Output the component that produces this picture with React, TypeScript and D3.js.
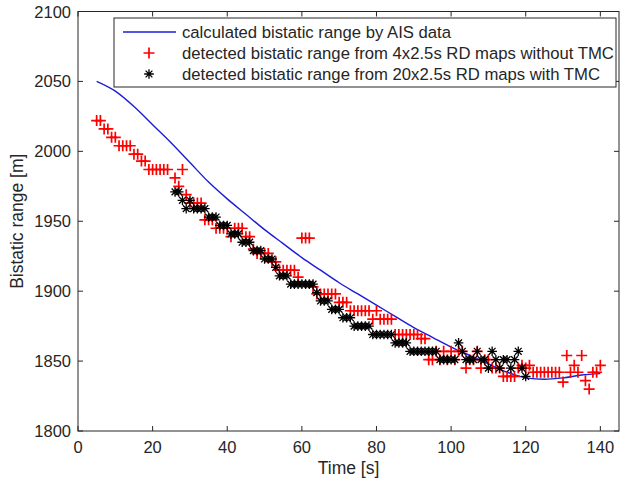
import React from "react";
import * as d3 from "d3";

// Calculated bistatic range (AIS)
const aisTime = [5, 10, 15, 20, 25, 30, 35, 40, 45, 50, 55, 60, 65, 70, 75, 80, 85, 90, 95, 100, 105, 110, 115, 120, 125, 130, 135, 140];
const aisRange = [2050, 2043, 2032, 2019, 2006, 1992, 1978, 1966, 1955, 1944, 1934, 1924, 1915, 1906, 1898, 1890, 1882, 1874, 1867, 1860, 1854, 1848, 1842, 1838, 1837, 1838, 1840, 1841];

// Detected without TMC (red +)
const redTime = [
  5, 6, 7, 8, 9, 10, 11, 12, 13, 14, 15, 16, 17, 18, 19, 20, 21, 22, 23, 24,
  26, 27, 28, 29, 30, 31, 32, 33, 34, 35, 36, 37, 38, 39, 40, 41, 42, 43, 44, 45,
  46, 47, 48, 49, 50, 51, 52, 53, 54, 55, 56, 57, 58, 59, 60, 61, 62, 63, 64, 65,
  66, 67, 68, 69, 70, 71, 72, 73, 74, 75, 76, 77, 78, 79, 80, 81, 82, 83, 84, 85,
  86, 87, 88, 89, 90, 91, 92, 93, 94, 95, 96, 97, 98, 99, 100, 101, 102, 103, 104, 105,
  106, 107, 108, 109, 110, 111, 112, 113, 114, 115, 116, 117, 118, 119, 120, 121, 122, 123, 124, 125,
  126, 127, 128, 129, 130, 131, 132, 133, 134, 135, 136, 137, 138, 139, 140,
];
const redRange = [
  2022, 2022, 2016, 2016, 2010, 2010, 2004, 2004, 2004, 2004, 1998, 1998, 1993, 1993, 1987, 1987, 1987, 1987, 1987, 1987,
  1981, 1975, 1987, 1969, 1963, 1963, 1963, 1963, 1951, 1951, 1951, 1945, 1945, 1945, 1945, 1939, 1945, 1945, 1945, 1939,
  1939, 1930, 1927, 1927, 1927, 1927, 1921, 1921, 1915, 1915, 1915, 1915, 1915, 1910, 1938, 1938, 1938, 1903, 1898, 1898,
  1898, 1898, 1898, 1898, 1892, 1892, 1892, 1886, 1886, 1886, 1886, 1886, 1886, 1880, 1886, 1880, 1880, 1880, 1880, 1869,
  1869, 1869, 1869, 1869, 1869, 1869, 1866, 1866, 1851, 1851, 1857, 1851, 1857, 1851, 1857, 1851, 1857, 1857, 1845, 1851,
  1851, 1857, 1845, 1851, 1851, 1845, 1845, 1845, 1839, 1839, 1839, 1839, 1845, 1847, 1845, 1847, 1842, 1842, 1842, 1842,
  1842, 1842, 1842, 1842, 1835, 1854, 1842, 1847, 1842, 1854, 1836, 1830, 1842, 1842, 1847,
];

// Detected with TMC (black *)
const blackTime = [
  26, 27, 28, 29, 30, 31, 32, 33, 34, 35, 36, 37, 38, 39, 40, 41, 42, 43, 44, 45,
  46, 47, 48, 49, 50, 51, 52, 53, 54, 55, 56, 57, 58, 59, 60, 61, 62, 63, 64, 65,
  66, 67, 68, 69, 70, 71, 72, 73, 74, 75, 76, 77, 78, 79, 80, 81, 82, 83, 84, 85,
  86, 87, 88, 89, 90, 91, 92, 93, 94, 95, 96, 97, 98, 99, 100, 101, 102, 103, 104, 105,
  106, 107, 108, 109, 110, 111, 112, 113, 114, 115, 116, 117, 118, 119, 120,
];
const blackRange = [
  1971, 1971, 1965, 1959, 1965, 1959, 1959, 1959, 1959, 1953, 1953, 1953, 1947, 1947, 1947, 1941, 1941, 1941, 1935, 1935,
  1935, 1929, 1929, 1929, 1923, 1923, 1923, 1917, 1911, 1911, 1911, 1905, 1905, 1905, 1905, 1905, 1905, 1905, 1899, 1893,
  1893, 1893, 1887, 1887, 1887, 1881, 1881, 1881, 1875, 1875, 1875, 1875, 1875, 1869, 1869, 1869, 1869, 1869, 1869, 1863,
  1863, 1863, 1863, 1857, 1857, 1857, 1857, 1857, 1857, 1857, 1857, 1851, 1851, 1851, 1851, 1851, 1863, 1857, 1851, 1851,
  1851, 1857, 1851, 1851, 1845, 1857, 1851, 1845, 1851, 1851, 1845, 1851, 1857, 1845, 1839,
];

const xTicks = [0, 20, 40, 60, 80, 100, 120, 140];
const yTicks = [1800, 1850, 1900, 1950, 2000, 2050, 2100];

const legendLabels = [
  "calculated bistatic range by AIS data",
  "detected bistatic range from 4x2.5s RD maps without TMC",
  "detected bistatic range from 20x2.5s RD maps with TMC",
];

const W = 620;
const H = 481;
const left = 78;
const right = 619;
const top = 11.5;
const bottom = 431;
const font = "'Liberation Sans', Arial, Helvetica, sans-serif";
const axisColor = "#262626";
const blue = "#1c1cd8";

const x = d3.scaleLinear().domain([0, 145]).range([left, right]);
const y = d3.scaleLinear().domain([1800, 2100]).range([bottom, top]);

const plusPath = (r: number) => `M${-r},0H${r}M0,${-r}V${r}`;
const starPath = (r: number) => {
  const d = r * 0.7071;
  return `M${-r},0H${r}M0,${-r}V${r}M${-d},${-d}L${d},${d}M${-d},${d}L${d},${-d}`;
};

export default function App() {
  const line = d3
    .line<number>()
    .x((_, i) => x(aisTime[i]))
    .y((v) => y(v))
    .curve(d3.curveMonotoneX);
  const linePath = line(aisRange) || "";

  const tickLen = 5;
  const legX = 114;
  const legY = 18;
  const legW = 502;
  const legH = 69;
  const rowY = [32, 53, 74];

  return (
    <svg
      width={W}
      height={H}
      style={{ position: "absolute", left: 0, top: 0, background: "#fff" }}
      fontFamily={font}
    >
      <rect x={0} y={0} width={W} height={H} fill="#fff" />
      {/* axes box */}
      <rect x={left} y={top} width={right - left} height={bottom - top} fill="#fff" stroke={axisColor} strokeWidth={1} />
      {xTicks.map((t) => (
        <g key={"xt" + t}>
          <line x1={x(t)} x2={x(t)} y1={bottom} y2={bottom - tickLen} stroke={axisColor} />
          <line x1={x(t)} x2={x(t)} y1={top} y2={top + tickLen} stroke={axisColor} />
          <text x={x(t)} y={bottom + 22} fontSize={16.5} textAnchor="middle" fill={axisColor}>
            {t}
          </text>
        </g>
      ))}
      {yTicks.map((t) => (
        <g key={"yt" + t}>
          <line x1={left} x2={left + tickLen} y1={y(t)} y2={y(t)} stroke={axisColor} />
          <line x1={right} x2={right - tickLen} y1={y(t)} y2={y(t)} stroke={axisColor} />
          <text x={left - 7} y={y(t) + 6} fontSize={16.5} textAnchor="end" fill={axisColor}>
            {t}
          </text>
        </g>
      ))}
      <text x={(left + right) / 2} y={474} fontSize={17.5} textAnchor="middle" fill={axisColor}>
        Time [s]
      </text>
      <text
        transform={`translate(23,${(top + bottom) / 2}) rotate(-90)`}
        fontSize={17.5}
        textAnchor="middle"
        fill={axisColor}
      >
        Bistatic range [m]
      </text>

      {/* AIS line */}
      <path d={linePath} fill="none" stroke={blue} strokeWidth={1.4} />

      {/* red plus markers */}
      {redRange.map((v, i) => (
        <path
          key={"r" + i}
          d={plusPath(5.5)}
          transform={`translate(${x(redTime[i])},${y(v)})`}
          stroke="#ff0000"
          strokeWidth={1.7}
          fill="none"
        />
      ))}
      {/* black star markers */}
      {blackRange.map((v, i) => (
        <path
          key={"b" + i}
          d={starPath(4.8)}
          transform={`translate(${x(blackTime[i])},${y(v)})`}
          stroke="#000"
          strokeWidth={1.3}
          fill="none"
        />
      ))}

      {/* legend */}
      <rect x={legX} y={legY} width={legW} height={legH} fill="#fff" stroke={axisColor} strokeWidth={1} />
      <line x1={123} x2={176} y1={rowY[0]} y2={rowY[0]} stroke={blue} strokeWidth={1.4} />
      <path d={plusPath(5.5)} transform={`translate(149,${rowY[1]})`} stroke="#ff0000" strokeWidth={1.7} fill="none" />
      <path d={starPath(4.8)} transform={`translate(149,${rowY[2]})`} stroke="#000" strokeWidth={1.3} fill="none" />
      {legendLabels.map((s, i) => (
        <text key={"l" + i} x={182} y={rowY[i] + 6} fontSize={16.7} fill={axisColor}>
          {s}
        </text>
      ))}
    </svg>
  );
}
